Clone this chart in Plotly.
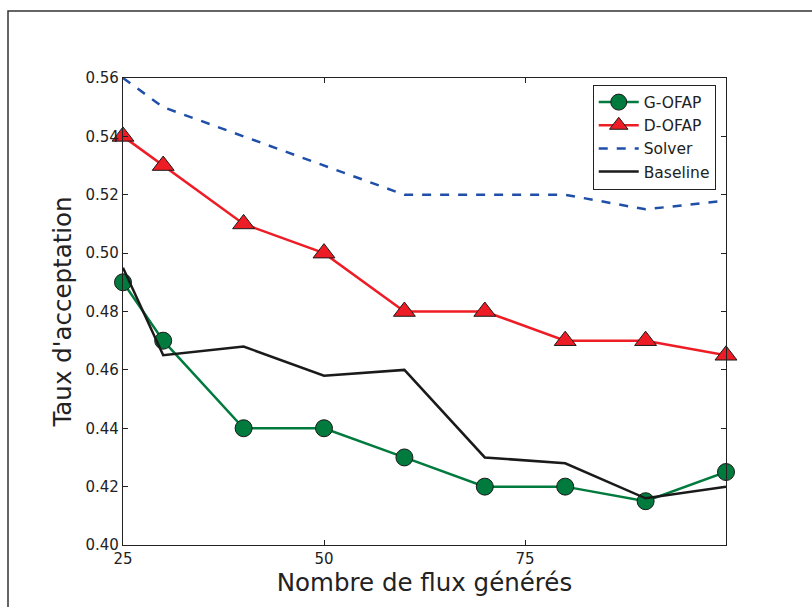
import plotly.graph_objects as go

x_vals = [25, 30, 40, 50, 60, 70, 80, 90, 100]
g_ofap = [0.49, 0.47, 0.44, 0.44, 0.43, 0.42, 0.42, 0.415, 0.425]
d_ofap = [0.54, 0.53, 0.51, 0.50, 0.48, 0.48, 0.47, 0.47, 0.465]
solver = [0.56, 0.55, 0.54, 0.53, 0.52, 0.52, 0.52, 0.515, 0.518]
baseline = [0.495, 0.465, 0.468, 0.458, 0.46, 0.43, 0.428, 0.416, 0.42]

x_ticks = [25, 50, 75]
y_ticks = [0.40, 0.42, 0.44, 0.46, 0.48, 0.50, 0.52, 0.54, 0.56]

FONT = "DejaVu Sans"

fig = go.Figure()
fig.add_trace(go.Scatter(
    x=x_vals, y=g_ofap, name="G-OFAP", mode="lines+markers",
    line=dict(color="#007a3d", width=2.5),
    marker=dict(symbol="circle", size=17, color="#007a3d",
                line=dict(color="#1a1a1a", width=1)),
    cliponaxis=False,
))
fig.add_trace(go.Scatter(
    x=x_vals, y=d_ofap, name="D-OFAP", mode="lines+markers",
    line=dict(color="#ee1c25", width=2.5),
    marker=dict(symbol="triangle-up", size=19, color="#ee1c25",
                line=dict(color="#1a1a1a", width=1)),
    cliponaxis=False,
))
fig.add_trace(go.Scatter(
    x=x_vals, y=solver, name="Solver", mode="lines",
    line=dict(color="#1f4fa8", width=2.5, dash="dash"),
))
fig.add_trace(go.Scatter(
    x=x_vals, y=baseline, name="Baseline", mode="lines",
    line=dict(color="#1a1a1a", width=2.5),
))

axis_common = dict(
    showgrid=False, zeroline=False, showline=True, linecolor="#222222",
    linewidth=1.3, mirror="ticks", ticks="inside", ticklen=5,
    tickcolor="#222222", tickwidth=1,
    tickfont=dict(family=FONT, size=15, color="#222222"),
)

fig.update_layout(
    width=812, height=607,
    margin=dict(l=123, r=86, t=78, b=62),
    paper_bgcolor="white", plot_bgcolor="white",
    font=dict(family=FONT, color="#222222"),
    showlegend=True,
    legend=dict(
        x=0.779, y=0.986, xanchor="left", yanchor="top",
        bgcolor="white", bordercolor="#222222", borderwidth=1,
        font=dict(family=FONT, size=15.5, color="#222222"),
        tracegroupgap=0, itemwidth=40,
    ),
    xaxis=dict(
        range=[25, 100], tickvals=x_ticks, ticktext=[str(v) for v in x_ticks],
        title=dict(text="Nombre de flux générés", standoff=6,
                   font=dict(family=FONT, size=24.5, color="#222222")),
        **axis_common,
    ),
    yaxis=dict(
        range=[0.40, 0.56], tickvals=y_ticks,
        ticktext=[f"{v:.2f}" for v in y_ticks],
        title=dict(text="Taux d'acceptation", standoff=6,
                   font=dict(family=FONT, size=24.5, color="#222222")),
        **axis_common,
    ),
)

# outer frame around the figure (top and left edges visible)
fig.add_shape(type="rect", xref="paper", yref="paper",
              x0=(8 - 123) / 603, x1=(830 - 123) / 603,
              y0=(545 - 630) / 467, y1=(545 - 11) / 467,
              line=dict(color="#333333", width=1.5), layer="below")

fig.write_html("out.html")
